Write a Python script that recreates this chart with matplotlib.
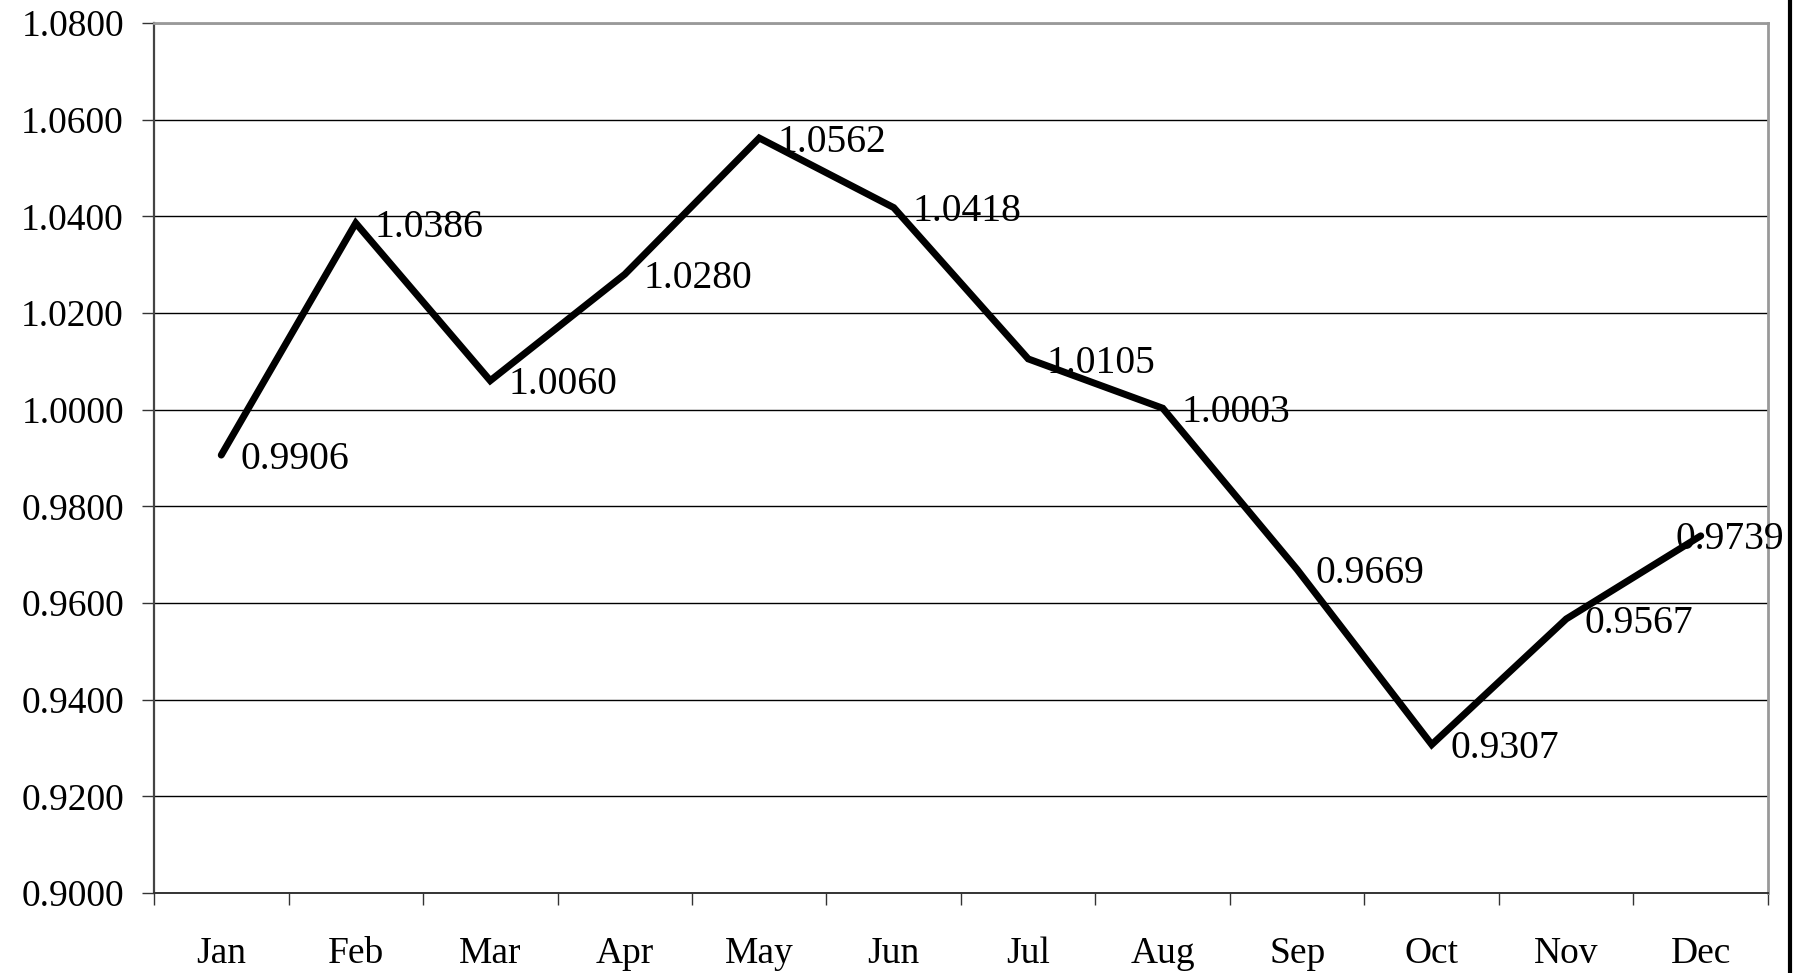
import matplotlib
matplotlib.use("Agg")
import matplotlib.pyplot as plt
from matplotlib.lines import Line2D
import numpy as np

months = ["Jan", "Feb", "Mar", "Apr", "May", "Jun", "Jul", "Aug", "Sep", "Oct", "Nov", "Dec"]
values = [0.9906, 1.0386, 1.0060, 1.0280, 1.0562, 1.0418, 1.0105, 1.0003, 0.9669, 0.9307, 0.9567, 0.9739]
y_ticks = [0.90, 0.92, 0.94, 0.96, 0.98, 1.00, 1.02, 1.04, 1.06, 1.08]

plt.rcParams['font.family'] = ['Liberation Serif', 'DejaVu Serif']
FS_LBL = 28.5
FS_TICK = 27

fig = plt.figure(figsize=(18, 9.73), dpi=100)
ax = fig.add_axes([154/1800, 1-893/973, (1768-154)/1800, (893-23)/973])

x = np.arange(len(months))
ax.plot(x, values, color='black', lw=5.0, solid_joinstyle='miter', solid_capstyle='round', zorder=5)

n = len(values)
for i, (xi, v) in enumerate(zip(x, values)):
    dx = 13.5 if i < n - 1 else -18
    ax.annotate(f"{v:.4f}", (xi, v), xytext=(dx, -3), textcoords='offset points',
                ha='left', va='center', fontsize=FS_LBL, color='black', zorder=3,
                annotation_clip=False)

ax.set_xlim(-0.5, len(months) - 0.5)
ax.set_ylim(0.90, 1.08)

ax.set_yticks(y_ticks)
ax.set_yticklabels([f"{t:.4f}" for t in y_ticks], fontsize=FS_TICK)
ax.yaxis.grid(True, color='black', lw=1.0, zorder=1)
ax.set_axisbelow(True)

ax.set_xticks(np.arange(-0.5, len(months), 1.0))
ax.set_xticklabels([])
ax.set_xticks(x, minor=True)
ax.set_xticklabels(months, minor=True, fontsize=FS_TICK)
ax.tick_params(axis='x', which='major', direction='out', length=8.6, width=1.0, color='#333333')
ax.tick_params(axis='x', which='minor', length=0, pad=31.5)
ax.tick_params(axis='y', direction='out', length=8.6, width=1.0, color='#333333', pad=13)

for side in ['top', 'right']:
    ax.spines[side].set_color('#999999')
    ax.spines[side].set_linewidth(2.0)
ax.spines['left'].set_color('#444444')
ax.spines['left'].set_linewidth(1.6)
ax.spines['bottom'].set_color('#333333')
ax.spines['bottom'].set_linewidth(1.4)

fig.add_artist(Line2D([1790/1800, 1790/1800], [0, 1], transform=fig.transFigure,
                      color='black', lw=3.0))

fig.savefig("out.png", dpi=100)
